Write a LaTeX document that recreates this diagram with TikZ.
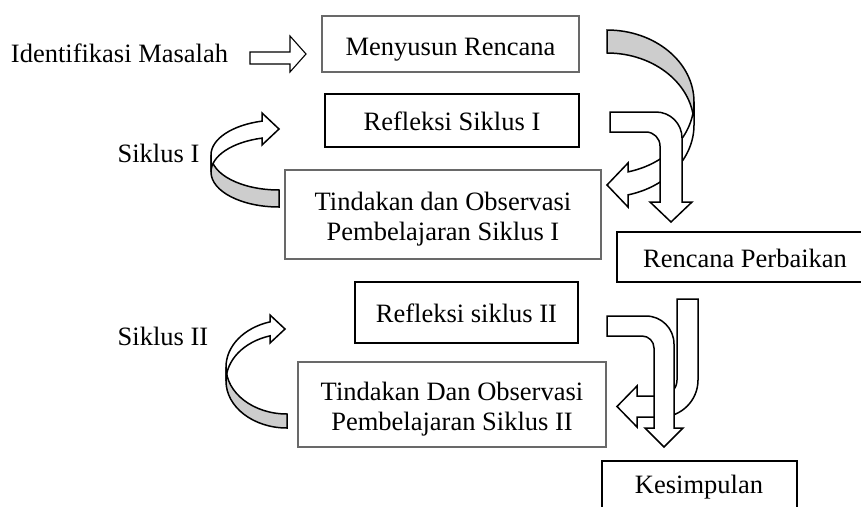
\documentclass[tikz,border=0pt]{standalone}
\usepackage{fontspec}
\setmainfont{Liberation Serif}
\definecolor{backgray}{RGB}{205,205,205}
\definecolor{boxgray}{RGB}{105,105,105}
\newcommand\lblfont{\fontsize{26.5pt}{30pt}\selectfont}
\tikzset{
  graybox/.style={draw=boxgray, line width=1.2pt, inner sep=0pt, outer sep=0pt},
  blackbox/.style={draw=black, line width=1.8pt, inner sep=0pt, outer sep=0pt},
  lbl/.style={font=\lblfont, inner sep=0pt, anchor=base},
  lbltwo/.style={font=\lblfont, inner sep=0pt, align=center},
  arrowbody/.style={draw=black, line width=1.5pt, fill=white, line join=miter},
  arrowback/.style={draw=black, line width=1.5pt, fill=backgray, line join=miter},
  thinarrow/.style={draw=black, line width=1.1pt, fill=white, line join=miter}
}
\begin{document}
\begin{tikzpicture}[x=1pt,y=1pt]
\useasboundingbox (0,0) rectangle (861,-506);
\clip (0,0) rectangle (861,-506);

% boxes
\node[graybox, minimum width=257pt, minimum height=56pt] (menyusun) at (450.5,-44) {};
\node[blackbox, minimum width=254pt, minimum height=53pt] (refl1) at (452,-120.5) {};
\node[graybox, minimum width=316pt, minimum height=89pt] (tind1) at (443,-214.5) {};
\node[blackbox, minimum width=256pt, minimum height=50pt] (rencana) at (745,-257) {};
\node[blackbox, minimum width=223pt, minimum height=61pt] (refl2) at (466.5,-312.5) {};
\node[graybox, minimum width=308pt, minimum height=85pt] (tind2) at (452,-404.5) {};
\node[blackbox, minimum width=195pt, minimum height=69pt] (kesim) at (699.5,-495.5) {};

% texts
\node[lbl] (tidm) at (119.5,-62) {Identifikasi Masalah};
\node[lbl] (tmenyusun) at (450.5,-55) {Menyusun Rencana};
\node[lbl] (trefl1) at (452,-130) {Refleksi Siklus I};
\node[lbltwo] (ttind1) at (443,-218.9) {Tindakan dan Observasi\\Pembelajaran Siklus I};
\node[lbl] (trencana) at (745,-267) {Rencana Perbaikan};
\node[lbl] (trefl2) at (466.5,-322) {Refleksi siklus II};
\node[lbltwo] (ttind2) at (452,-408.9) {Tindakan Dan Observasi\\Pembelajaran Siklus II};
\node[lbl] (tkesim) at (699,-493) {Kesimpulan};
\node[lbl] (tsik1) at (158.5,-162) {Siklus I};
\node[lbl] (tsik2) at (163,-345) {Siklus II};

% small block arrow
\path[thinarrow] (250,-52) -- (290,-52) -- (290,-36) -- (306,-54) -- (290,-72) -- (290,-64) -- (250,-64) -- cycle;

% upper right curved (left-pointing) arrow
\path[arrowback] (607,-30) arc[start angle=90, end angle=0, x radius=87pt, y radius=72pt]
  -- (694,-125) arc[start angle=0, end angle=90, x radius=87pt, y radius=72pt] -- cycle;
\path[arrowbody] (694,-102) arc[start angle=0, end angle=-76.03, x radius=87pt, y radius=72pt]
  -- (628,-163) -- (607,-185) -- (628,-207) -- (628,-194.87)
  arc[start angle=-76.03, end angle=0, x radius=87pt, y radius=72pt] -- cycle;

% upper right bent down arrow
\path[arrowbody] (610,-112) -- (656,-112) arc[start angle=90, end angle=0, radius=26pt]
  -- (682,-202) -- (692,-202) -- (671,-222) -- (650,-202) -- (660,-202)
  -- (660,-146) arc[start angle=0, end angle=90, radius=14pt] -- (610,-132) -- cycle;

% lower right J arrow (left-pointing)
\path[arrowbody] (677,-299) -- (698,-299) -- (698,-380) arc[start angle=0, end angle=-90, radius=37pt]
  -- (637,-417) -- (637,-427) -- (617,-406.5) -- (637,-386) -- (637,-396) -- (661,-396)
  arc[start angle=-90, end angle=0, radius=16pt] -- cycle;

% lower right bent down arrow
\path[arrowbody] (607,-316) -- (646,-316) arc[start angle=90, end angle=0, radius=28pt]
  -- (674,-428) -- (683,-428) -- (664,-447) -- (645,-428) -- (654,-428)
  -- (654,-348) arc[start angle=0, end angle=90, radius=12pt] -- (607,-336) -- cycle;

% upper left curved (right-pointing) arrow
\path[arrowback] (279,-207) arc[start angle=-90, end angle=-180, x radius=68pt, y radius=35pt]
  -- (211,-155) arc[start angle=-180, end angle=-90, x radius=68pt, y radius=35pt] -- cycle;
\path[arrowbody] (211,-155) arc[start angle=180, end angle=104.48, x radius=68pt, y radius=35pt]
  -- (262,-113) -- (279,-129) -- (262,-145) -- (262,-138.1)
  arc[start angle=104.48, end angle=180, x radius=68pt, y radius=35pt] -- cycle;

% lower left curved (right-pointing) arrow
\path[arrowback] (287,-428) arc[start angle=-90, end angle=-180, x radius=61pt, y radius=47pt]
  -- (226,-367) arc[start angle=-180, end angle=-90, x radius=61pt, y radius=47pt] -- cycle;
\path[arrowbody] (226,-367) arc[start angle=180, end angle=106.18, x radius=61pt, y radius=47pt]
  -- (270,-315) -- (285,-329) -- (270,-343) -- (270,-335.86)
  arc[start angle=106.18, end angle=180, x radius=61pt, y radius=47pt] -- cycle;
\end{tikzpicture}
\end{document}
